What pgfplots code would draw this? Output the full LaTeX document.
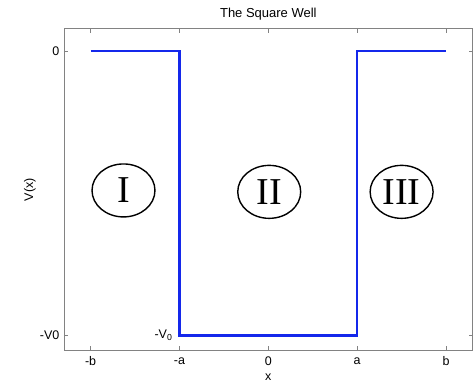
\documentclass[border=0pt]{standalone}
\usepackage{pgfplots}
\pgfplotsset{compat=1.18}
\usepackage{fontspec}
\setmainfont{Liberation Sans}
\newfontfamily\timesfont{Liberation Serif}
\usetikzlibrary{shapes.geometric}
\definecolor{wellblue}{RGB}{20,40,235}
\definecolor{axgray}{RGB}{130,130,130}
\begin{document}
\begin{tikzpicture}
\begin{axis}[
  scale only axis,
  width=409pt, height=322pt,
  xmin=-2.3, xmax=2.3, ymin=-1.052, ymax=0.078,
  xtick={-2,-1,0,1,2}, xticklabels={-b,-a,0,a,b},
  ytick={-1,0}, yticklabels={-V0,0},
  tick align=inside, xtick pos=both, ytick pos=both,
  major tick length=4pt,
  axis line style={axgray, line width=0.8pt},
  every tick/.style={axgray, line width=0.6pt},
  tick label style={font=\fontsize{12.5}{14}\selectfont},
  xticklabel style={anchor=center, yshift=-11pt},
  yticklabel style={xshift=-1pt},
  title={The Square Well},
  title style={font=\fontsize{13}{15}\selectfont, at={(axis description cs:0.5,1)}, anchor=center, yshift=8.5pt},
  xlabel={x}, ylabel={V(x)},
  xlabel style={font=\fontsize{12.5}{14}\selectfont, at={(axis description cs:0.5,0)}, anchor=center, yshift=-26.5pt},
  ylabel style={font=\fontsize{12.5}{14}\selectfont, at={(axis description cs:0,0.5)}, anchor=center, yshift=34pt},
  clip=false,
]
\addplot[wellblue, line width=2.6pt] coordinates {
  (-2,0) (-1,0) (-1,-1) (1,-1) (1,0) (2,0)
};
\node[ellipse, draw, line width=1.4pt, minimum width=63pt, minimum height=53pt, inner sep=0pt, font=\timesfont\fontsize{38}{40}\selectfont] at (axis cs:-1.63,-0.49) {I};
\node[ellipse, draw, line width=1.4pt, minimum width=63pt, minimum height=53pt, inner sep=0pt, font=\timesfont\fontsize{38}{40}\selectfont] at (axis cs:0.01,-0.495) {II};
\node[ellipse, draw, line width=1.4pt, minimum width=63pt, minimum height=53pt, inner sep=0pt, font=\timesfont\fontsize{38}{40}\selectfont] at (axis cs:1.5,-0.495) {III};
\node[anchor=east, font=\fontsize{12.5}{14}\selectfont] at (axis cs:-1.04,-0.997) {-V$_{\mathrm{0}}$};
\end{axis}
\pgfresetboundingbox
\path ([shift={(-64pt,-32.3pt)}]current axis.south west) rectangle ([shift={(0.3pt,28.7pt)}]current axis.north east);
\end{tikzpicture}
\end{document}
